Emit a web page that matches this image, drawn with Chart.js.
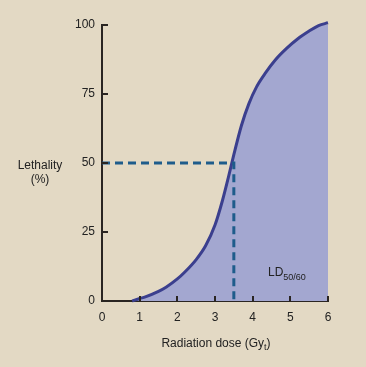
<!DOCTYPE html>
<html lang="en">
<head>
  <meta charset="UTF-8" />
  <title>Lethality vs radiation dose</title>
  <script src="https://cdn.jsdelivr.net/npm/chart.js"></script>
  <style>
    body {
      margin: 0;
      background: #e3d9c4;
    }
    #wrap {
      width: 366px;
      height: 367px;
    }
  </style>
</head>
<body>
  <div id="wrap"><canvas id="ldChart" width="366" height="367"></canvas></div>

  <script>
    // dose-response curve
    const doseX   = [0.8, 1.0, 1.15, 1.5, 1.7, 2.0, 2.2, 2.5, 2.75, 3.0, 3.2, 3.35, 3.5, 3.7, 3.9, 4.1, 4.35, 4.6, 4.9, 5.2, 5.5, 5.75, 6.0];
    const lethalY = [0, 0.9, 1.5, 3.5, 5, 8, 10.5, 15, 20, 27.5, 36.5, 44.5, 53, 63.5, 71.5, 77.5, 82.8, 87.3, 91.5, 95, 97.8, 99.8, 100.8];

    // LD50/60 guide line
    const guideX = [0, 3.5, 3.5];
    const guideY = [50, 50, 0];

    const xTicks = [0, 1, 2, 3, 4, 5, 6];
    const yTicks = [0, 25, 50, 75, 100];

    const ink = '#2a2522';
    const font = 'Liberation Sans, Arial, sans-serif';

    const extras = {
      id: 'extras',
      beforeDraw(chart) {
        const c = chart.ctx;
        c.save();
        c.fillStyle = '#e3d9c4';
        c.fillRect(0, 0, chart.width, chart.height);
        c.restore();
      },
      afterDraw(chart) {
        const c = chart.ctx;
        const xs = chart.scales.x, ys = chart.scales.y;
        const a = chart.chartArea;
        c.save();
        // inward tick marks
        c.strokeStyle = ink;
        c.lineWidth = 2;
        xTicks.forEach(v => {
          const px = Math.round(xs.getPixelForValue(v));
          c.beginPath();
          c.moveTo(px, a.bottom);
          c.lineTo(px, a.bottom - 5);
          c.stroke();
        });
        yTicks.forEach(v => {
          const py = Math.round(ys.getPixelForValue(v));
          c.beginPath();
          c.moveTo(a.left, py);
          c.lineTo(a.left + 6, py);
          c.stroke();
        });

        c.fillStyle = '#222';
        // y title, horizontal
        c.font = '12px ' + font;
        c.textAlign = 'center';
        c.textBaseline = 'alphabetic';
        c.fillText('Lethality', 40, 169);
        c.fillText('(%)', 40, 183);

        // x title with subscript
        const main = 'Radiation dose (Gy';
        c.font = '12px ' + font;
        const w1 = c.measureText(main).width;
        c.font = '9px ' + font;
        const w2 = c.measureText('t').width;
        c.font = '12px ' + font;
        const w3 = c.measureText(')').width;
        let sx = 216 - (w1 + w2 + w3) / 2;
        c.textAlign = 'left';
        c.fillText(main, sx, 347);
        sx += w1;
        c.font = '9px ' + font;
        c.fillText('t', sx, 350);
        sx += w2;
        c.font = '12px ' + font;
        c.fillText(')', sx, 347);

        // LD50/60 label
        c.font = '12px ' + font;
        c.fillText('LD', 268, 276);
        const wl = c.measureText('LD').width;
        c.font = '9px ' + font;
        c.fillText('50/60', 268 + wl, 280);
        c.restore();
      }
    };

    new Chart(document.getElementById('ldChart'), {
      type: 'line',
      data: {
        datasets: [
          {
            label: 'Lethality',
            data: doseX.map((x, i) => ({ x: x, y: lethalY[i] })),
            borderColor: '#3b3f8e',
            borderWidth: 3,
            backgroundColor: '#a3a7d0',
            fill: 'origin',
            pointRadius: 0,
            cubicInterpolationMode: 'monotone',
            clip: 4,
            order: 2
          },
          {
            label: 'LD50/60',
            data: guideX.map((x, i) => ({ x: x, y: guideY[i] })),
            borderColor: '#1e5c8b',
            borderWidth: 3,
            borderDash: [8, 5],
            fill: false,
            pointRadius: 0,
            tension: 0,
            order: 1
          }
        ]
      },
      options: {
        responsive: false,
        animation: false,
        layout: { padding: { top: 25, right: 38, left: 0, bottom: 0 } },
        plugins: {
          legend: { display: false },
          tooltip: { enabled: false }
        },
        scales: {
          x: {
            type: 'linear',
            min: 0,
            max: 6,
            z: 1,
            afterBuildTicks: s => { s.ticks = xTicks.map(v => ({ value: v })); },
            grid: { display: false, drawTicks: false },
            border: { display: true, color: ink, width: 2 },
            ticks: { color: '#222', font: { family: font, size: 12 }, padding: 9 },
            afterFit: s => { s.height = 66; }
          },
          y: {
            min: 0,
            max: 100,
            z: 1,
            afterBuildTicks: s => { s.ticks = yTicks.map(v => ({ value: v })); },
            grid: { display: false, drawTicks: false },
            border: { display: true, color: ink, width: 2 },
            ticks: { color: '#222', font: { family: font, size: 12 }, padding: 7 },
            afterFit: s => { s.width = 102; }
          }
        }
      },
      plugins: [extras]
    });
  </script>
</body>
</html>
